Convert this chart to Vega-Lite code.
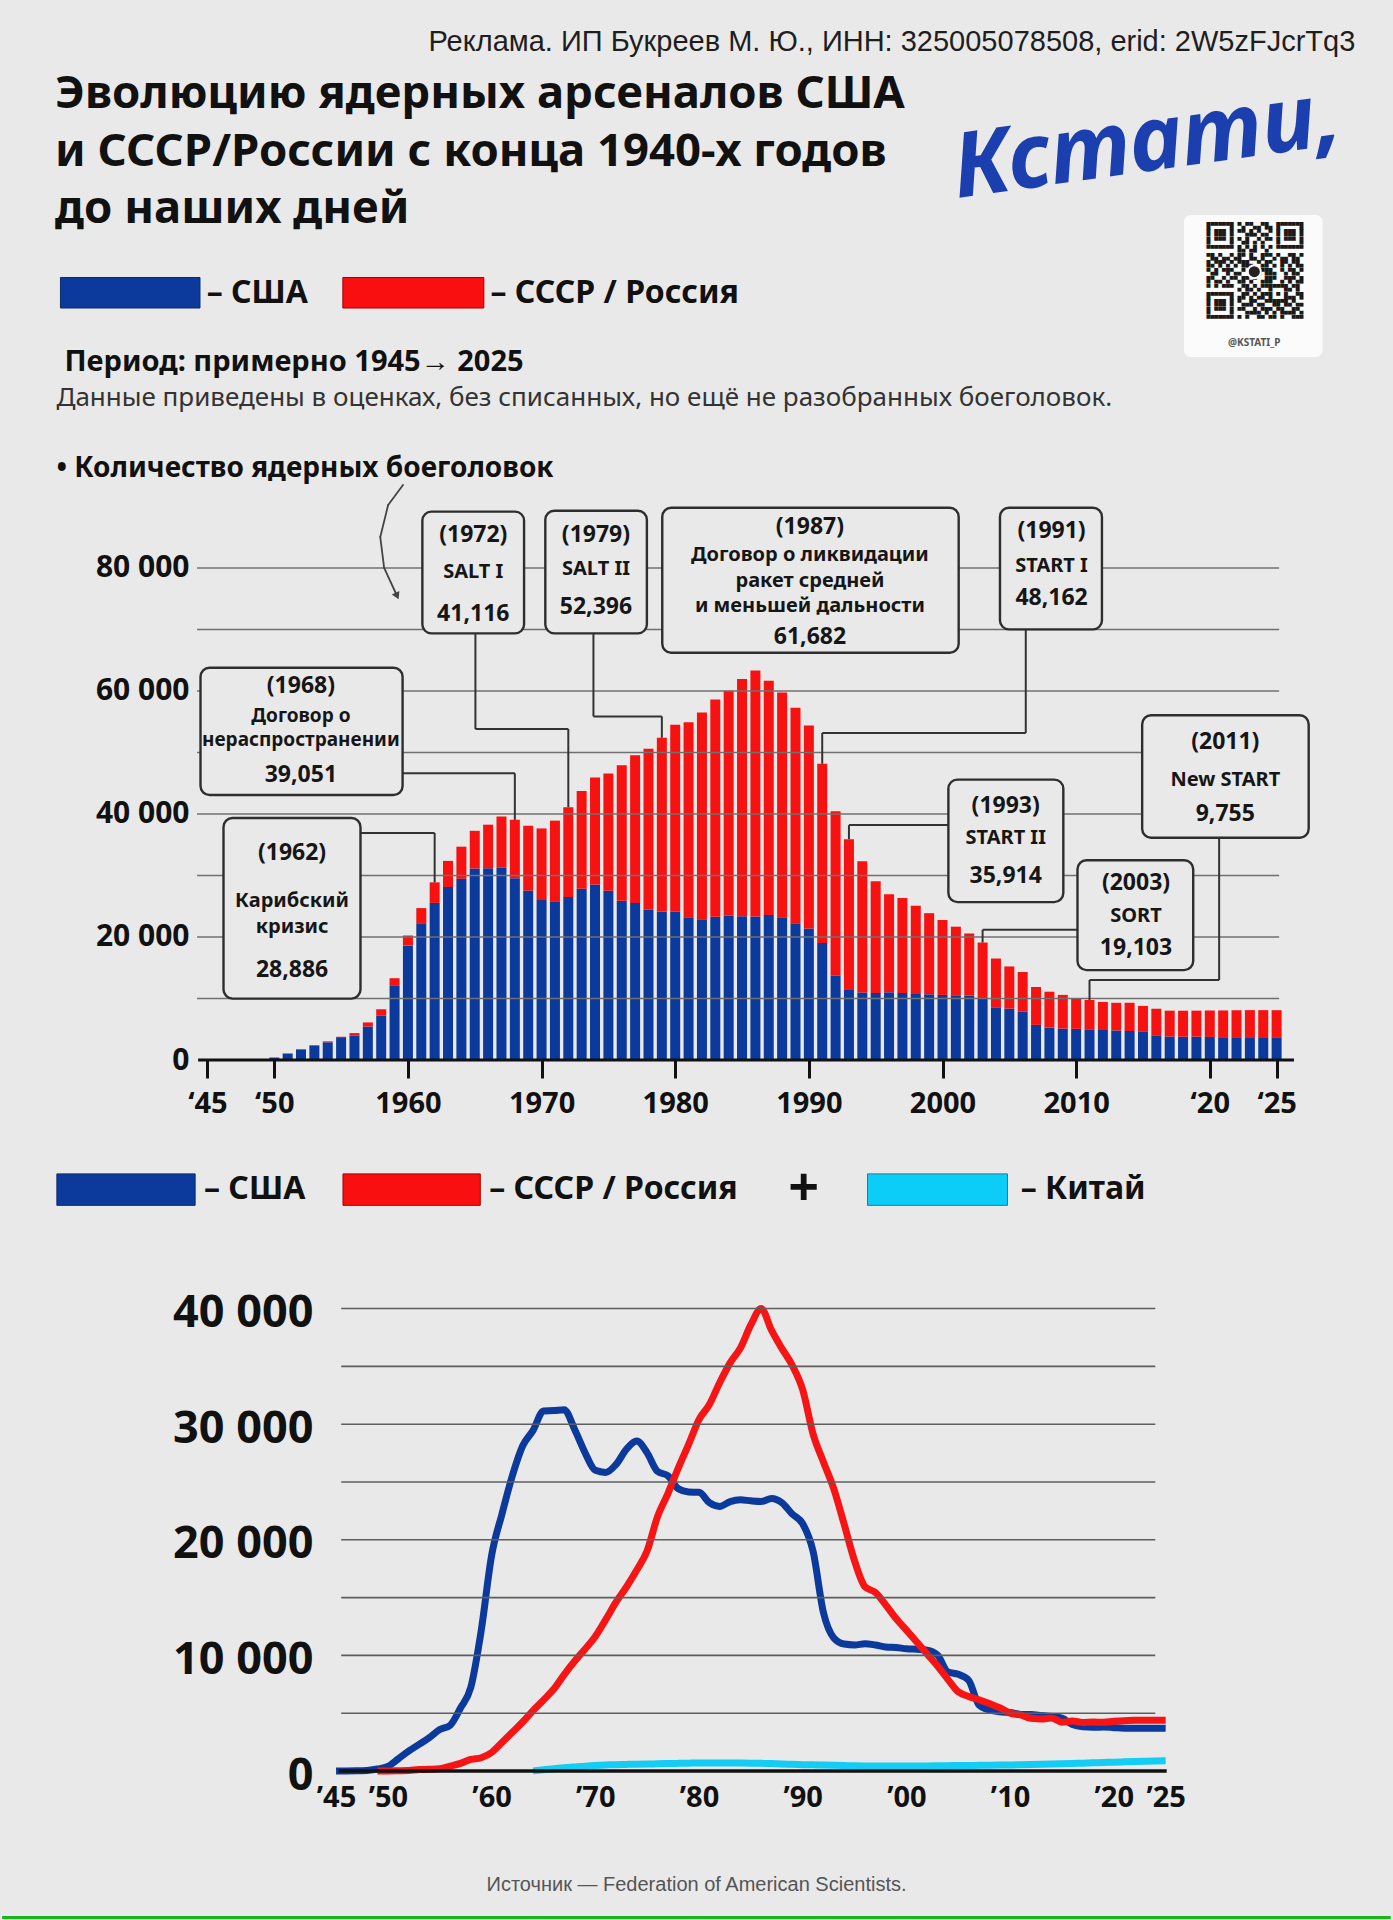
{
"$schema": "https://vega.github.io/schema/vega-lite/v6.json",
"width": 1393, "height": 1920,
"autosize": {"type": "fit", "contains": "padding"},
"padding": 0,
"background": "#e9e9e9",
"config": {"view": {"stroke": null}, "font": "Noto Sans"},
"datasets": {
"one": [{}],
"bcgrid": [{"v":10000},{"v":20000},{"v":30000},{"v":40000},{"v":50000},{"v":60000},{"v":70000},{"v":80000}],
"lcgrid": [{"v":5000},{"v":10000},{"v":15000},{"v":20000},{"v":25000},{"v":30000},{"v":35000},{"v":40000}],
"arsenal": [
{"year":1945,"usa":2},{"year":1946,"usa":9},{"year":1947,"usa":13},{"year":1948,"usa":50},
{"year":1949,"usa":170,"ussr":1},{"year":1950,"usa":400,"ussr":5},{"year":1951,"usa":1050,"ussr":25},
{"year":1952,"usa":1720,"ussr":50},{"year":1953,"usa":2300,"ussr":120},{"year":1954,"usa":2880,"ussr":150},
{"year":1955,"usa":3580,"ussr":200},{"year":1956,"usa":3950,"ussr":426},{"year":1957,"usa":5450,"ussr":660},
{"year":1958,"usa":7250,"ussr":1000},{"year":1959,"usa":12150,"ussr":1150},{"year":1960,"usa":18638,"ussr":1605},
{"year":1961,"usa":22229,"ussr":2471},{"year":1962,"usa":25540,"ussr":3346},{"year":1963,"usa":28133,"ussr":4238},
{"year":1964,"usa":29463,"ussr":5221,"china":10},{"year":1965,"usa":31139,"ussr":6129,"china":100},
{"year":1966,"usa":31175,"ussr":7089,"china":200},{"year":1967,"usa":31255,"ussr":8339,"china":280},
{"year":1968,"usa":29561,"ussr":9490,"china":350},{"year":1969,"usa":27552,"ussr":10538,"china":420},
{"year":1970,"usa":26008,"ussr":11643,"china":480},{"year":1971,"usa":25830,"ussr":13092,"china":520},
{"year":1972,"usa":26516,"ussr":14600,"china":550},{"year":1973,"usa":27835,"ussr":15915,"china":570},
{"year":1974,"usa":28537,"ussr":17385,"china":590},{"year":1975,"usa":27519,"ussr":19055,"china":600},
{"year":1976,"usa":25914,"ussr":22000,"china":620},{"year":1977,"usa":25542,"ussr":24000,"china":640},
{"year":1978,"usa":24418,"ussr":26200,"china":660},{"year":1979,"usa":24138,"ussr":28258,"china":680},
{"year":1980,"usa":24104,"ussr":30400,"china":700},{"year":1981,"usa":23208,"ussr":31700,"china":700},
{"year":1982,"usa":22886,"ussr":33600,"china":700},{"year":1983,"usa":23305,"ussr":35300,"china":690},
{"year":1984,"usa":23459,"ussr":36600,"china":690},{"year":1985,"usa":23368,"ussr":38600,"china":680},
{"year":1986,"usa":23317,"ussr":40000,"china":660},{"year":1987,"usa":23575,"ussr":38107,"china":640},
{"year":1988,"usa":23205,"ussr":36538,"china":610},{"year":1989,"usa":22217,"ussr":35078,"china":580},
{"year":1990,"usa":21392,"ussr":32980,"china":550},{"year":1991,"usa":19008,"ussr":29154,"china":530},
{"year":1992,"usa":13708,"ussr":26734,"china":510},{"year":1993,"usa":11511,"ussr":24403,"china":490},
{"year":1994,"usa":10979,"ussr":21339,"china":470},{"year":1995,"usa":10904,"ussr":18179,"china":450},
{"year":1996,"usa":11011,"ussr":15942,"china":440},{"year":1997,"usa":10903,"ussr":15442,"china":435},
{"year":1998,"usa":10732,"ussr":14368,"china":430},{"year":1999,"usa":10685,"ussr":13188,"china":430},
{"year":2000,"usa":10577,"ussr":12188,"china":430},{"year":2001,"usa":10526,"ussr":11152,"china":430},
{"year":2002,"usa":10457,"ussr":10114,"china":440},{"year":2003,"usa":10027,"ussr":9076,"china":450},
{"year":2004,"usa":8570,"ussr":7930,"china":460},{"year":2005,"usa":8360,"ussr":6850,"china":470},
{"year":2006,"usa":7853,"ussr":6450,"china":480},{"year":2007,"usa":5709,"ussr":6160,"china":490},
{"year":2008,"usa":5273,"ussr":5830,"china":500},{"year":2009,"usa":5113,"ussr":5470,"china":510},
{"year":2010,"usa":5066,"ussr":5000,"china":520},{"year":2011,"usa":4897,"ussr":4858,"china":540},
{"year":2012,"usa":4881,"ussr":4560,"china":560},{"year":2013,"usa":4804,"ussr":4500,"china":580},
{"year":2014,"usa":4717,"ussr":4590,"china":600},{"year":2015,"usa":4571,"ussr":4220,"china":620},
{"year":2016,"usa":4018,"ussr":4320,"china":650},{"year":2017,"usa":3822,"ussr":4200,"china":680},
{"year":2018,"usa":3785,"ussr":4230,"china":710},{"year":2019,"usa":3805,"ussr":4220,"china":740},
{"year":2020,"usa":3750,"ussr":4300,"china":760},{"year":2021,"usa":3708,"ussr":4350,"china":790},
{"year":2022,"usa":3708,"ussr":4380,"china":820},{"year":2023,"usa":3708,"ussr":4400,"china":850},
{"year":2024,"usa":3708,"ussr":4400,"china":870},{"year":2025,"usa":3700,"ussr":4400,"china":890}
]
},
"resolve": {"scale": {"x": "independent", "y": "independent", "color": "independent"}, "axis": {"x": "independent", "y": "independent"}},
"layer": [
{
"layer": [
{"data":{"name":"arsenal"},"transform":[{"fold":["usa","ussr"],"as":["country","n"]},{"filter":"isValid(datum.n) && datum.n > 0"}],
 "mark":{"type":"bar","width":10},
 "encoding":{
 "x":{"field":"year","type":"quantitative","scale":{"domain":[1930,2033.185],"nice":false,"zero":false},
  "axis":{"orient":"bottom","offset":-860,"values":[1945,1950,1960,1970,1980,1990,2000,2010,2020,2025],
  "labelExpr":"datum.value < 1960 || datum.value > 2010 ? '‘' + substring(toString(datum.value), 2, 4) : toString(datum.value)",
  "domain":false,"grid":false,"ticks":true,"tickSize":18,"tickWidth":3,"tickColor":"#111","labelPadding":11,
  "labelFontSize":29,"labelFontWeight":"bold","labelColor":"#111","title":null,"labelOverlap":false,"labelFlush":false,"labelBound":false}},
 "y":{"field":"n","type":"quantitative","stack":"zero","scale":{"domain":[-139836,172356],"nice":false,"zero":false},
  "axis":{"orient":"left","offset":-192,"values":[0,20000,40000,60000,80000],
  "labelExpr":"datum.value == 0 ? '0' : format(datum.value / 1000, 'd') + ' 000'",
  "domain":false,"grid":false,"ticks":false,"labelPadding":5,"labelFontSize":30,"labelFontWeight":"bold","labelColor":"#111","title":null,"labelOverlap":false,"labelFlush":false,"labelBound":false}},
 "color":{"field":"country","type":"nominal","scale":{"domain":["usa","ussr"],"range":["#0b3a9c","#f71212"]},"legend":null},
 "order":{"field":"country","sort":"ascending"}}},
{"data":{"name":"bcgrid"},"mark":{"type":"rule","stroke":"#707070","strokeWidth":1.3},
 "encoding":{"x":{"datum":1944.22,"type":"quantitative"},"x2":{"datum":2025.19},
 "y":{"field":"v","type":"quantitative"}}},
{"data":{"name":"one"},"mark":{"type":"rule","stroke":"#111","strokeWidth":3},"encoding":{"x":{"datum":1944.3,"type":"quantitative"},"x2":{"datum":2026.3},"y":{"datum":0,"type":"quantitative"}}},

{"data":{"name":"one"},"mark":{"type":"rule","stroke":"#333","strokeWidth":2},"encoding":{"x":{"datum":1965.05,"type":"quantitative"},"y":{"datum":69365,"type":"quantitative"},"y2":{"datum":53821}}},
{"data":{"name":"one"},"mark":{"type":"rule","stroke":"#333","strokeWidth":2},"encoding":{"x":{"datum":1965.05,"type":"quantitative"},"x2":{"datum":1972},"y":{"datum":53821,"type":"quantitative"}}},
{"data":{"name":"one"},"mark":{"type":"rule","stroke":"#333","strokeWidth":2},"encoding":{"x":{"datum":1972,"type":"quantitative"},"y":{"datum":53821,"type":"quantitative"},"y2":{"datum":41116}}},

{"data":{"name":"one"},"mark":{"type":"rule","stroke":"#333","strokeWidth":2},"encoding":{"x":{"datum":1973.88,"type":"quantitative"},"y":{"datum":69365,"type":"quantitative"},"y2":{"datum":55869}}},
{"data":{"name":"one"},"mark":{"type":"rule","stroke":"#333","strokeWidth":2},"encoding":{"x":{"datum":1973.88,"type":"quantitative"},"x2":{"datum":1979},"y":{"datum":55869,"type":"quantitative"}}},
{"data":{"name":"one"},"mark":{"type":"rule","stroke":"#333","strokeWidth":2},"encoding":{"x":{"datum":1979,"type":"quantitative"},"y":{"datum":55869,"type":"quantitative"},"y2":{"datum":52396}}},

{"data":{"name":"one"},"mark":{"type":"rule","stroke":"#333","strokeWidth":2},"encoding":{"x":{"datum":2006.23,"type":"quantitative"},"y":{"datum":70016,"type":"quantitative"},"y2":{"datum":53170}}},
{"data":{"name":"one"},"mark":{"type":"rule","stroke":"#333","strokeWidth":2},"encoding":{"x":{"datum":1991,"type":"quantitative"},"x2":{"datum":2006.23},"y":{"datum":53170,"type":"quantitative"}}},
{"data":{"name":"one"},"mark":{"type":"rule","stroke":"#333","strokeWidth":2},"encoding":{"x":{"datum":1991,"type":"quantitative"},"y":{"datum":53170,"type":"quantitative"},"y2":{"datum":48162}}},

{"data":{"name":"one"},"mark":{"type":"rule","stroke":"#333","strokeWidth":2},"encoding":{"x":{"datum":1993,"type":"quantitative"},"x2":{"datum":2000.44},"y":{"datum":38195,"type":"quantitative"}}},
{"data":{"name":"one"},"mark":{"type":"rule","stroke":"#333","strokeWidth":2},"encoding":{"x":{"datum":1993,"type":"quantitative"},"y":{"datum":38195,"type":"quantitative"},"y2":{"datum":35914}}},

{"data":{"name":"one"},"mark":{"type":"rule","stroke":"#333","strokeWidth":2},"encoding":{"x":{"datum":2003,"type":"quantitative"},"x2":{"datum":2010.1},"y":{"datum":21171,"type":"quantitative"}}},
{"data":{"name":"one"},"mark":{"type":"rule","stroke":"#333","strokeWidth":2},"encoding":{"x":{"datum":2003,"type":"quantitative"},"y":{"datum":21171,"type":"quantitative"},"y2":{"datum":19103}}},

{"data":{"name":"one"},"mark":{"type":"rule","stroke":"#333","strokeWidth":2},"encoding":{"x":{"datum":2020.7,"type":"quantitative"},"y":{"datum":36146,"type":"quantitative"},"y2":{"datum":13008}}},
{"data":{"name":"one"},"mark":{"type":"rule","stroke":"#333","strokeWidth":2},"encoding":{"x":{"datum":2011,"type":"quantitative"},"x2":{"datum":2020.7},"y":{"datum":13008,"type":"quantitative"}}},
{"data":{"name":"one"},"mark":{"type":"rule","stroke":"#333","strokeWidth":2},"encoding":{"x":{"datum":2011,"type":"quantitative"},"y":{"datum":13008,"type":"quantitative"},"y2":{"datum":9755}}},

{"data":{"name":"one"},"mark":{"type":"rule","stroke":"#333","strokeWidth":2},"encoding":{"x":{"datum":1959.6,"type":"quantitative"},"x2":{"datum":1968},"y":{"datum":46617,"type":"quantitative"}}},
{"data":{"name":"one"},"mark":{"type":"rule","stroke":"#333","strokeWidth":2},"encoding":{"x":{"datum":1968,"type":"quantitative"},"y":{"datum":46617,"type":"quantitative"},"y2":{"datum":39051}}},

{"data":{"name":"one"},"mark":{"type":"rule","stroke":"#333","strokeWidth":2},"encoding":{"x":{"datum":1956.45,"type":"quantitative"},"x2":{"datum":1962},"y":{"datum":36910,"type":"quantitative"}}},
{"data":{"name":"one"},"mark":{"type":"rule","stroke":"#333","strokeWidth":2},"encoding":{"x":{"datum":1962,"type":"quantitative"},"y":{"datum":36910,"type":"quantitative"},"y2":{"datum":28886}}},

{"data":{"name":"one"},"mark":{"type":"rect","fill":"#e9e9e9","stroke":"#2e2e2e","strokeWidth":2.4,"cornerRadius":9},"encoding":{"x":{"datum":1961.08,"type":"quantitative"},"x2":{"datum":1968.69},"y":{"datum":89170,"type":"quantitative"},"y2":{"datum":69365}}},
{"data":{"name":"one"},"mark":{"type":"rect","fill":"#e9e9e9","stroke":"#2e2e2e","strokeWidth":2.4,"cornerRadius":9},"encoding":{"x":{"datum":1970.28,"type":"quantitative"},"x2":{"datum":1977.88},"y":{"datum":89300,"type":"quantitative"},"y2":{"datum":69365}}},
{"data":{"name":"one"},"mark":{"type":"rect","fill":"#e9e9e9","stroke":"#2e2e2e","strokeWidth":2.4,"cornerRadius":9},"encoding":{"x":{"datum":1979.03,"type":"quantitative"},"x2":{"datum":2001.21},"y":{"datum":89804,"type":"quantitative"},"y2":{"datum":66227}}},
{"data":{"name":"one"},"mark":{"type":"rect","fill":"#e9e9e9","stroke":"#2e2e2e","strokeWidth":2.4,"cornerRadius":9},"encoding":{"x":{"datum":2004.3,"type":"quantitative"},"x2":{"datum":2011.93},"y":{"datum":89804,"type":"quantitative"},"y2":{"datum":70016}}},
{"data":{"name":"one"},"mark":{"type":"rect","fill":"#e9e9e9","stroke":"#2e2e2e","strokeWidth":2.4,"cornerRadius":9},"encoding":{"x":{"datum":2000.44,"type":"quantitative"},"x2":{"datum":2009.04},"y":{"datum":45593,"type":"quantitative"},"y2":{"datum":25675}}},
{"data":{"name":"one"},"mark":{"type":"rect","fill":"#e9e9e9","stroke":"#2e2e2e","strokeWidth":2.4,"cornerRadius":9},"encoding":{"x":{"datum":2010.1,"type":"quantitative"},"x2":{"datum":2018.76},"y":{"datum":32487,"type":"quantitative"},"y2":{"datum":14618}}},
{"data":{"name":"one"},"mark":{"type":"rect","fill":"#e9e9e9","stroke":"#2e2e2e","strokeWidth":2.4,"cornerRadius":9},"encoding":{"x":{"datum":2014.94,"type":"quantitative"},"x2":{"datum":2027.4},"y":{"datum":56064,"type":"quantitative"},"y2":{"datum":36146}}},
{"data":{"name":"one"},"mark":{"type":"rect","fill":"#e9e9e9","stroke":"#2e2e2e","strokeWidth":2.4,"cornerRadius":9},"encoding":{"x":{"datum":1944.48,"type":"quantitative"},"x2":{"datum":1959.6},"y":{"datum":63788,"type":"quantitative"},"y2":{"datum":43089}}},
{"data":{"name":"one"},"mark":{"type":"rect","fill":"#e9e9e9","stroke":"#2e2e2e","strokeWidth":2.4,"cornerRadius":9},"encoding":{"x":{"datum":1946.2,"type":"quantitative"},"x2":{"datum":1956.45},"y":{"datum":39349,"type":"quantitative"},"y2":{"datum":9984}}},

{"data":{"name":"one"},"mark":{"type":"text","align":"center","baseline":"middle","fontSize":23,"fontWeight":"bold","fill":"#161616"},"encoding":{"x":{"datum":1964.89,"type":"quantitative"},"y":{"datum":85446,"type":"quantitative"},"text":{"value":"(1972)"}}},
{"data":{"name":"one"},"mark":{"type":"text","align":"center","baseline":"middle","fontSize":20,"fontWeight":"bold","fill":"#161616"},"encoding":{"x":{"datum":1964.89,"type":"quantitative"},"y":{"datum":79397,"type":"quantitative"},"text":{"value":"SALT I"}}},
{"data":{"name":"one"},"mark":{"type":"text","align":"center","baseline":"middle","fontSize":23,"fontWeight":"bold","fill":"#161616"},"encoding":{"x":{"datum":1964.89,"type":"quantitative"},"y":{"datum":72455,"type":"quantitative"},"text":{"value":"41,116"}}},

{"data":{"name":"one"},"mark":{"type":"text","align":"center","baseline":"middle","fontSize":23,"fontWeight":"bold","fill":"#161616"},"encoding":{"x":{"datum":1974.07,"type":"quantitative"},"y":{"datum":85446,"type":"quantitative"},"text":{"value":"(1979)"}}},
{"data":{"name":"one"},"mark":{"type":"text","align":"center","baseline":"middle","fontSize":20,"fontWeight":"bold","fill":"#161616"},"encoding":{"x":{"datum":1974.07,"type":"quantitative"},"y":{"datum":79853,"type":"quantitative"},"text":{"value":"SALT II"}}},
{"data":{"name":"one"},"mark":{"type":"text","align":"center","baseline":"middle","fontSize":23,"fontWeight":"bold","fill":"#161616"},"encoding":{"x":{"datum":1974.07,"type":"quantitative"},"y":{"datum":73739,"type":"quantitative"},"text":{"value":"52,396"}}},

{"data":{"name":"one"},"mark":{"type":"text","align":"center","baseline":"middle","fontSize":23,"fontWeight":"bold","fill":"#161616"},"encoding":{"x":{"datum":1990.08,"type":"quantitative"},"y":{"datum":86601,"type":"quantitative"},"text":{"value":"(1987)"}}},
{"data":{"name":"one"},"mark":{"type":"text","align":"center","baseline":"middle","fontSize":20,"fontWeight":"bold","fill":"#161616"},"encoding":{"x":{"datum":1990.08,"type":"quantitative"},"y":{"datum":82100,"type":"quantitative"},"text":{"value":"Договор о ликвидации"}}},
{"data":{"name":"one"},"mark":{"type":"text","align":"center","baseline":"middle","fontSize":20,"fontWeight":"bold","fill":"#161616"},"encoding":{"x":{"datum":1990.08,"type":"quantitative"},"y":{"datum":77918,"type":"quantitative"},"text":{"value":"ракет средней"}}},
{"data":{"name":"one"},"mark":{"type":"text","align":"center","baseline":"middle","fontSize":20,"fontWeight":"bold","fill":"#161616"},"encoding":{"x":{"datum":1990.08,"type":"quantitative"},"y":{"datum":73740,"type":"quantitative"},"text":{"value":"и меньшей дальности"}}},
{"data":{"name":"one"},"mark":{"type":"text","align":"center","baseline":"middle","fontSize":23,"fontWeight":"bold","fill":"#161616"},"encoding":{"x":{"datum":1990.08,"type":"quantitative"},"y":{"datum":68731,"type":"quantitative"},"text":{"value":"61,682"}}},

{"data":{"name":"one"},"mark":{"type":"text","align":"center","baseline":"middle","fontSize":23,"fontWeight":"bold","fill":"#161616"},"encoding":{"x":{"datum":2008.16,"type":"quantitative"},"y":{"datum":85950,"type":"quantitative"},"text":{"value":"(1991)"}}},
{"data":{"name":"one"},"mark":{"type":"text","align":"center","baseline":"middle","fontSize":20,"fontWeight":"bold","fill":"#161616"},"encoding":{"x":{"datum":2008.16,"type":"quantitative"},"y":{"datum":80292,"type":"quantitative"},"text":{"value":"START I"}}},
{"data":{"name":"one"},"mark":{"type":"text","align":"center","baseline":"middle","fontSize":23,"fontWeight":"bold","fill":"#161616"},"encoding":{"x":{"datum":2008.16,"type":"quantitative"},"y":{"datum":75154,"type":"quantitative"},"text":{"value":"48,162"}}},

{"data":{"name":"one"},"mark":{"type":"text","align":"center","baseline":"middle","fontSize":23,"fontWeight":"bold","fill":"#161616"},"encoding":{"x":{"datum":2004.73,"type":"quantitative"},"y":{"datum":41284,"type":"quantitative"},"text":{"value":"(1993)"}}},
{"data":{"name":"one"},"mark":{"type":"text","align":"center","baseline":"middle","fontSize":20,"fontWeight":"bold","fill":"#161616"},"encoding":{"x":{"datum":2004.73,"type":"quantitative"},"y":{"datum":36146,"type":"quantitative"},"text":{"value":"START II"}}},
{"data":{"name":"one"},"mark":{"type":"text","align":"center","baseline":"middle","fontSize":23,"fontWeight":"bold","fill":"#161616"},"encoding":{"x":{"datum":2004.73,"type":"quantitative"},"y":{"datum":29853,"type":"quantitative"},"text":{"value":"35,914"}}},

{"data":{"name":"one"},"mark":{"type":"text","align":"center","baseline":"middle","fontSize":23,"fontWeight":"bold","fill":"#161616"},"encoding":{"x":{"datum":2014.48,"type":"quantitative"},"y":{"datum":28748,"type":"quantitative"},"text":{"value":"(2003)"}}},
{"data":{"name":"one"},"mark":{"type":"text","align":"center","baseline":"middle","fontSize":20,"fontWeight":"bold","fill":"#161616"},"encoding":{"x":{"datum":2014.48,"type":"quantitative"},"y":{"datum":23414,"type":"quantitative"},"text":{"value":"SORT"}}},
{"data":{"name":"one"},"mark":{"type":"text","align":"center","baseline":"middle","fontSize":23,"fontWeight":"bold","fill":"#161616"},"encoding":{"x":{"datum":2014.48,"type":"quantitative"},"y":{"datum":18276,"type":"quantitative"},"text":{"value":"19,103"}}},

{"data":{"name":"one"},"mark":{"type":"text","align":"center","baseline":"middle","fontSize":23,"fontWeight":"bold","fill":"#161616"},"encoding":{"x":{"datum":2021.16,"type":"quantitative"},"y":{"datum":51756,"type":"quantitative"},"text":{"value":"(2011)"}}},
{"data":{"name":"one"},"mark":{"type":"text","align":"center","baseline":"middle","fontSize":20,"fontWeight":"bold","fill":"#161616"},"encoding":{"x":{"datum":2021.16,"type":"quantitative"},"y":{"datum":45463,"type":"quantitative"},"text":{"value":"New START"}}},
{"data":{"name":"one"},"mark":{"type":"text","align":"center","baseline":"middle","fontSize":23,"fontWeight":"bold","fill":"#161616"},"encoding":{"x":{"datum":2021.16,"type":"quantitative"},"y":{"datum":40000,"type":"quantitative"},"text":{"value":"9,755"}}},

{"data":{"name":"one"},"mark":{"type":"text","align":"center","baseline":"middle","fontSize":23,"fontWeight":"bold","fill":"#161616"},"encoding":{"x":{"datum":1951.99,"type":"quantitative"},"y":{"datum":60763,"type":"quantitative"},"text":{"value":"(1968)"}}},
{"data":{"name":"one"},"mark":{"type":"text","align":"center","baseline":"middle","fontSize":19,"fontWeight":"bold","fill":"#161616"},"encoding":{"x":{"datum":1951.99,"type":"quantitative"},"y":{"datum":55878,"type":"quantitative"},"text":{"value":"Договор о"}}},
{"data":{"name":"one"},"mark":{"type":"text","align":"center","baseline":"middle","fontSize":19,"fontWeight":"bold","fill":"#161616"},"encoding":{"x":{"datum":1951.99,"type":"quantitative"},"y":{"datum":52090,"type":"quantitative"},"text":{"value":"нераспространении"}}},
{"data":{"name":"one"},"mark":{"type":"text","align":"center","baseline":"middle","fontSize":23,"fontWeight":"bold","fill":"#161616"},"encoding":{"x":{"datum":1951.99,"type":"quantitative"},"y":{"datum":46422,"type":"quantitative"},"text":{"value":"39,051"}}},

{"data":{"name":"one"},"mark":{"type":"text","align":"center","baseline":"middle","fontSize":23,"fontWeight":"bold","fill":"#161616"},"encoding":{"x":{"datum":1951.33,"type":"quantitative"},"y":{"datum":33577,"type":"quantitative"},"text":{"value":"(1962)"}}},
{"data":{"name":"one"},"mark":{"type":"text","align":"center","baseline":"middle","fontSize":20,"fontWeight":"bold","fill":"#161616"},"encoding":{"x":{"datum":1951.33,"type":"quantitative"},"y":{"datum":25853,"type":"quantitative"},"text":{"value":"Карибский"}}},
{"data":{"name":"one"},"mark":{"type":"text","align":"center","baseline":"middle","fontSize":20,"fontWeight":"bold","fill":"#161616"},"encoding":{"x":{"datum":1951.33,"type":"quantitative"},"y":{"datum":21561,"type":"quantitative"},"text":{"value":"кризис"}}},
{"data":{"name":"one"},"mark":{"type":"text","align":"center","baseline":"middle","fontSize":23,"fontWeight":"bold","fill":"#161616"},"encoding":{"x":{"datum":1951.33,"type":"quantitative"},"y":{"datum":14618,"type":"quantitative"},"text":{"value":"28,886"}}},

{"data":{"name":"one"},"mark":{"type":"text","align":"right","baseline":"middle","fontSize":29,"font":"Liberation Sans","fill":"#1e1e1e"},"encoding":{"x":{"datum":2030.89,"type":"quantitative"},"y":{"datum":165592,"type":"quantitative"},"text":{"value":"Реклама. ИП Букреев М. Ю., ИНН: 325005078508, erid: 2W5zFJcrTq3"}}},
{"data":{"name":"one"},"mark":{"type":"text","align":"left","baseline":"middle","fontSize":45.5,"fontWeight":"bold","fill":"#111"},"encoding":{"x":{"datum":1933.6,"type":"quantitative"},"y":{"datum":157023,"type":"quantitative"},"text":{"value":"Эволюцию ядерных арсеналов США"}}},
{"data":{"name":"one"},"mark":{"type":"text","align":"left","baseline":"middle","fontSize":45.5,"fontWeight":"bold","fill":"#111"},"encoding":{"x":{"datum":1933.6,"type":"quantitative"},"y":{"datum":147673,"type":"quantitative"},"text":{"value":"и СССР/России с конца 1940-х годов"}}},
{"data":{"name":"one"},"mark":{"type":"text","align":"left","baseline":"middle","fontSize":45.5,"fontWeight":"bold","fill":"#111"},"encoding":{"x":{"datum":1933.6,"type":"quantitative"},"y":{"datum":138324,"type":"quantitative"},"text":{"value":"до наших дней"}}},
{"data":{"name":"one"},"mark":{"type":"text","align":"center","baseline":"middle","fontSize":90,"fontWeight":"bold","fontStyle":"italic","fill":"#1b3fae","angle":352},"encoding":{"x":{"datum":2015.3,"type":"quantitative"},"y":{"datum":148942,"type":"quantitative"},"text":{"value":"Кстати,"}}},

{"data":{"name":"one"},"mark":{"type":"rect","fill":"#fbfbfb","cornerRadius":7},"encoding":{"x":{"datum":2018.07,"type":"quantitative"},"x2":{"datum":2028.44},"y":{"datum":137397,"type":"quantitative"},"y2":{"datum":114308}}},
{"data":{"name":"one"},"mark":{"type":"text","align":"left","baseline":"top","font":"DejaVu Sans Mono","fontSize":6.45,"lineHeight":7.76,"fill":"#1a1a1a"},"encoding":{"x":{"datum":2019.76,"type":"quantitative"},"y":{"datum":136145,"type":"quantitative"},"text":{"value":[
"█▀▀▀▀▀█\u00a0▀▄▀▀▄▄▀█▄\u00a0█▀▀▀▀▀█",
"█\u00a0███\u00a0█\u00a0▀▀▄█▄▀▄▄▀\u00a0█\u00a0███\u00a0█",
"█\u00a0▀▀▀\u00a0█\u00a0▀▄█\u00a0▄▀▄▀▀\u00a0█\u00a0▀▀▀\u00a0█",
"▀▀▀▀▀▀▀\u00a0█▄▀▄█\u00a0▀▄▀\u00a0▀▀▀▀▀▀▀",
"▀█▄▀▄▄▀▄█▀\u00a0█▄\u00a0█▀▀▄▀▄▄▀█▄▀",
"█▄▀█▀▄▀▄▀██▄\u00a0▀▄█▀▄\u00a0█▀▄▀█▄",
"▀▄█\u00a0▀█▀▄▄▀\u00a0█▀▄▀██▄\u00a0▀▄▀█▄▀",
"█▀▄▄▀▄▀▀▄█▀▄▀\u00a0▄██▀\u00a0▄▀█▀▄█",
"▀\u00a0▀\u00a0▀▀▀\u00a0▄▀█▄▀▄▀▀█▀▀▀█▄▀█\u00a0",
"█▀▀▀▀▀█\u00a0▄█▀▄▀▄█▀█\u00a0▀\u00a0█▄▄▀█",
"█\u00a0███\u00a0█\u00a0▀▄▄█▀▄▄▀▀██▀█▄▀▄▄",
"█\u00a0▀▀▀\u00a0█\u00a0▀▀▄▄█▄▀█▀▄▀█▄▄█▀▄",
"▀▀▀▀▀▀▀\u00a0▀\u00a0▀\u00a0\u00a0▀▀\u00a0▀▀\u00a0▀\u00a0\u00a0▀▀▀"
]}}},
{"data":{"name":"one"},"mark":{"type":"point","shape":"circle","filled":true,"fill":"#222","stroke":"#fbfbfb","strokeWidth":2,"size":170,"opacity":1},"encoding":{"x":{"datum":2023.33,"type":"quantitative"},"y":{"datum":128178,"type":"quantitative"}}},
{"data":{"name":"one"},"mark":{"type":"text","align":"center","baseline":"middle","fontSize":10,"fontWeight":"bold","fill":"#555"},"encoding":{"x":{"datum":2023.33,"type":"quantitative"},"y":{"datum":116535,"type":"quantitative"},"text":{"value":"@KSTATI_P"}}},

{"data":{"name":"one"},"mark":{"type":"rect","fill":"#0b3a9c","stroke":"#082a70","strokeWidth":1},"encoding":{"x":{"datum":1934.0,"type":"quantitative"},"x2":{"datum":1944.44},"y":{"datum":127235,"type":"quantitative"},"y2":{"datum":122275}}},
{"data":{"name":"one"},"mark":{"type":"rect","fill":"#f90f0f","stroke":"#a80000","strokeWidth":1},"encoding":{"x":{"datum":1955.13,"type":"quantitative"},"x2":{"datum":1965.68},"y":{"datum":127235,"type":"quantitative"},"y2":{"datum":122275}}},
{"data":{"name":"one"},"mark":{"type":"text","align":"left","baseline":"middle","fontSize":32,"fontWeight":"bold","fill":"#111"},"encoding":{"x":{"datum":1944.94,"type":"quantitative"},"y":{"datum":124795,"type":"quantitative"},"text":{"value":"– США"}}},
{"data":{"name":"one"},"mark":{"type":"text","align":"left","baseline":"middle","fontSize":32,"fontWeight":"bold","fill":"#111"},"encoding":{"x":{"datum":1966.17,"type":"quantitative"},"y":{"datum":124795,"type":"quantitative"},"text":{"value":"– СССР / Россия"}}},
{"data":{"name":"one"},"mark":{"type":"text","align":"left","baseline":"middle","fontSize":29,"fontWeight":"bold","fill":"#111"},"encoding":{"x":{"datum":1934.3,"type":"quantitative"},"y":{"datum":113446,"type":"quantitative"},"text":{"value":"Период: примерно 1945→ 2025"}}},
{"data":{"name":"one"},"mark":{"type":"text","align":"left","baseline":"middle","fontSize":26,"fill":"#333"},"encoding":{"x":{"datum":1933.7,"type":"quantitative"},"y":{"datum":107674,"type":"quantitative"},"text":{"value":"Данные приведены в оценках, без списанных, но ещё не разобранных боеголовок."}}},
{"data":{"name":"one"},"mark":{"type":"text","align":"left","baseline":"middle","fontSize":28,"fontWeight":"bold","fill":"#111"},"encoding":{"x":{"datum":1933.7,"type":"quantitative"},"y":{"datum":96129,"type":"quantitative"},"text":{"value":"• Количество ядерных боеголовок"}}},

{"data":{"name":"one"},"mark":{"type":"rule","stroke":"#444","strokeWidth":1.8,"strokeCap":"round"},"encoding":{"x":{"datum":1959.63,"type":"quantitative"},"x2":{"datum":1958.52},"y":{"datum":93495,"type":"quantitative"},"y2":{"datum":90243}}},
{"data":{"name":"one"},"mark":{"type":"rule","stroke":"#444","strokeWidth":1.8,"strokeCap":"round"},"encoding":{"x":{"datum":1958.52,"type":"quantitative"},"x2":{"datum":1957.93},"y":{"datum":90243,"type":"quantitative"},"y2":{"datum":85040}}},
{"data":{"name":"one"},"mark":{"type":"rule","stroke":"#444","strokeWidth":1.8,"strokeCap":"round"},"encoding":{"x":{"datum":1957.93,"type":"quantitative"},"x2":{"datum":1958.22},"y":{"datum":85040,"type":"quantitative"},"y2":{"datum":80000}}},
{"data":{"name":"one"},"mark":{"type":"rule","stroke":"#444","strokeWidth":1.8,"strokeCap":"round"},"encoding":{"x":{"datum":1958.22,"type":"quantitative"},"x2":{"datum":1959.19},"y":{"datum":80000,"type":"quantitative"},"y2":{"datum":75446}}},
{"data":{"name":"one"},"mark":{"type":"point","shape":"triangle-down","filled":true,"fill":"#444","size":70,"angle":335,"opacity":1},"encoding":{"x":{"datum":1959.19,"type":"quantitative"},"y":{"datum":75446,"type":"quantitative"}}}
]
},
{
"layer": [
{"data":{"name":"arsenal"},"transform":[{"fold":["usa","ussr","china"],"as":["country","n"]},{"filter":"isValid(datum.n)"}],
 "mark":{"type":"line","strokeWidth":7,"interpolate":"monotone"},
 "encoding":{
 "x":{"field":"year","type":"quantitative","scale":{"domain":[1912.788,2046.73],"nice":false,"zero":false},
  "axis":{"orient":"bottom","offset":-149,"values":[1945,1950,1960,1970,1980,1990,2000,2010,2020,2025],
  "labelExpr":"'’' + substring(toString(datum.value), 2, 4)",
  "domain":false,"grid":false,"ticks":false,"labelPadding":12,"labelFontSize":29,"labelFontWeight":"bold","labelColor":"#111","title":null,"labelOverlap":false,"labelFlush":false,"labelBound":false}},
 "y":{"field":"n","type":"quantitative","scale":{"domain":[-12888.5,153191.5],"nice":false,"zero":false},
  "axis":{"orient":"left","offset":-326,"values":[0,10000,20000,30000,40000],
  "labelExpr":"datum.value == 0 ? '0' : format(datum.value / 1000, 'd') + ' 000'",
  "domain":false,"grid":false,"ticks":false,"labelPadding":15,"labelOffset":4,"labelFontSize":45,"labelFontWeight":"bold","labelColor":"#111","title":null,"labelOverlap":false,"labelFlush":false,"labelBound":false}},
 "color":{"field":"country","type":"nominal","scale":{"domain":["usa","ussr","china"],"range":["#0b3a9c","#f71414","#13cdf4"]},"legend":null}}},
{"data":{"name":"lcgrid"},"mark":{"type":"rule","stroke":"#5e5e5e","strokeWidth":1.6},
 "encoding":{"x":{"datum":1945.5,"type":"quantitative"},"x2":{"datum":2024.0},
 "y":{"field":"v","type":"quantitative"}}},
{"data":{"name":"one"},"mark":{"type":"rule","stroke":"#111","strokeWidth":3.5},"encoding":{"x":{"datum":1945.25,"type":"quantitative"},"x2":{"datum":2025.1},"y":{"datum":0,"type":"quantitative"}}},

{"data":{"name":"one"},"mark":{"type":"rect","fill":"#0b3a9c","stroke":"#082a70","strokeWidth":1},"encoding":{"x":{"datum":1918.08,"type":"quantitative"},"x2":{"datum":1931.41},"y":{"datum":51650,"type":"quantitative"},"y2":{"datum":48930}}},
{"data":{"name":"one"},"mark":{"type":"rect","fill":"#f90f0f","stroke":"#a80000","strokeWidth":1},"encoding":{"x":{"datum":1945.67,"type":"quantitative"},"x2":{"datum":1958.91},"y":{"datum":51650,"type":"quantitative"},"y2":{"datum":48930}}},
{"data":{"name":"one"},"mark":{"type":"rect","fill":"#0ccdf7","stroke":"#1a7f9a","strokeWidth":1},"encoding":{"x":{"datum":1996.25,"type":"quantitative"},"x2":{"datum":2009.75},"y":{"datum":51650,"type":"quantitative"},"y2":{"datum":48930}}},
{"data":{"name":"one"},"mark":{"type":"text","align":"left","baseline":"middle","fontSize":32,"fontWeight":"bold","fill":"#111"},"encoding":{"x":{"datum":1932.27,"type":"quantitative"},"y":{"datum":50343,"type":"quantitative"},"text":{"value":"– США"}}},
{"data":{"name":"one"},"mark":{"type":"text","align":"left","baseline":"middle","fontSize":32,"fontWeight":"bold","fill":"#111"},"encoding":{"x":{"datum":1959.77,"type":"quantitative"},"y":{"datum":50343,"type":"quantitative"},"text":{"value":"– СССР / Россия"}}},
{"data":{"name":"one"},"mark":{"type":"text","align":"center","baseline":"middle","fontSize":54,"fontWeight":"bold","fill":"#111"},"encoding":{"x":{"datum":1990.1,"type":"quantitative"},"y":{"datum":50257,"type":"quantitative"},"text":{"value":"+"}}},
{"data":{"name":"one"},"mark":{"type":"text","align":"left","baseline":"middle","fontSize":32,"fontWeight":"bold","fill":"#111"},"encoding":{"x":{"datum":2011.03,"type":"quantitative"},"y":{"datum":50343,"type":"quantitative"},"text":{"value":"– Китай"}}},
{"data":{"name":"one"},"mark":{"type":"text","align":"center","baseline":"middle","fontSize":20,"font":"Liberation Sans","fill":"#555"},"encoding":{"x":{"datum":1979.76,"type":"quantitative"},"y":{"datum":-9861,"type":"quantitative"},"text":{"value":"Источник — Federation of American Scientists."}}},
{"data":{"name":"one"},"mark":{"type":"rule","stroke":"#1db31d","strokeWidth":3},"encoding":{"x":{"datum":1912.8,"type":"quantitative"},"x2":{"datum":2046.7},"y":{"datum":-12672,"type":"quantitative"}}}
]
}
]
}
